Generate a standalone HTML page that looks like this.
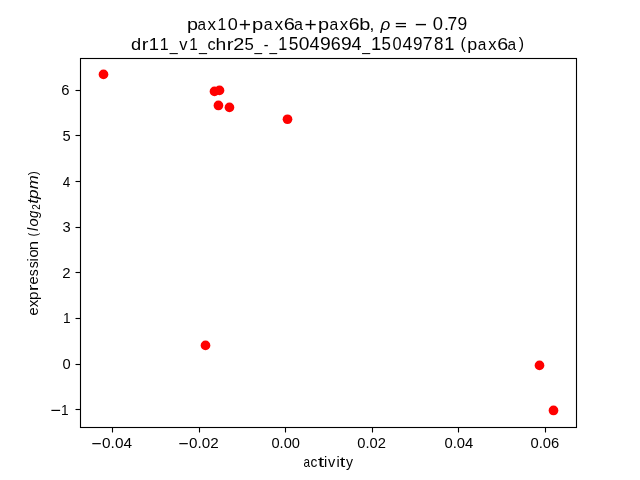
<!DOCTYPE html>
<html lang="en"><head><meta charset="utf-8"><title>scatter</title>
<style>
html,body{margin:0;padding:0;background:#fff;}
body{width:640px;height:480px;overflow:hidden;}
svg{display:block;}
text{font-family:"Liberation Sans", sans-serif;fill:#000;white-space:pre;}
</style></head>
<body>
<svg width="640" height="480" viewBox="0 0 640 480">
<rect x="0" y="0" width="640" height="480" fill="#ffffff"/>
<g fill="#ff0000" stroke="none">
<circle cx="103.50" cy="74.40" r="4.86"/>
<circle cx="214.50" cy="91.40" r="4.86"/>
<circle cx="219.50" cy="90.40" r="4.86"/>
<circle cx="218.45" cy="105.45" r="4.86"/>
<circle cx="229.45" cy="107.40" r="4.86"/>
<circle cx="287.50" cy="119.25" r="4.86"/>
<circle cx="205.50" cy="345.40" r="4.86"/>
<circle cx="539.50" cy="365.40" r="4.86"/>
<circle cx="553.50" cy="410.45" r="4.86"/>
</g>
<g stroke="#000" stroke-width="1.11" fill="none" stroke-linecap="butt">
<line x1="112.5" y1="428" x2="112.5" y2="432.5"/>
<line x1="199.5" y1="428" x2="199.5" y2="432.5"/>
<line x1="285.5" y1="428" x2="285.5" y2="432.5"/>
<line x1="372.5" y1="428" x2="372.5" y2="432.5"/>
<line x1="458.5" y1="428" x2="458.5" y2="432.5"/>
<line x1="545.5" y1="428" x2="545.5" y2="432.5"/>
<line x1="75.5" y1="90.5" x2="80" y2="90.5"/>
<line x1="75.5" y1="135.5" x2="80" y2="135.5"/>
<line x1="75.5" y1="181.5" x2="80" y2="181.5"/>
<line x1="75.5" y1="227.5" x2="80" y2="227.5"/>
<line x1="75.5" y1="272.5" x2="80" y2="272.5"/>
<line x1="75.5" y1="318.5" x2="80" y2="318.5"/>
<line x1="75.5" y1="364.5" x2="80" y2="364.5"/>
<line x1="75.5" y1="409.5" x2="80" y2="409.5"/>
<rect x="80.5" y="58.5" width="496" height="369" stroke-linejoin="miter"/>
</g>
<defs><filter id="ga" x="0" y="0" width="640" height="480" filterUnits="userSpaceOnUse" color-interpolation-filters="sRGB"><feOffset dx="0" dy="0"/></filter></defs>
<g filter="url(#ga)" opacity="0.999">
<rect x="239.80" y="23.90" width="10.20" height="1.40" fill="#000"/>
<rect x="244.20" y="20.00" width="1.40" height="9.60" fill="#000"/>
<rect x="305.50" y="23.90" width="10.20" height="1.40" fill="#000"/>
<rect x="309.90" y="20.00" width="1.40" height="9.60" fill="#000"/>
<rect x="395.80" y="22.90" width="10.20" height="1.30" fill="#000"/>
<rect x="395.80" y="25.95" width="10.20" height="1.30" fill="#000"/>
<rect x="415.80" y="23.90" width="10.20" height="1.40" fill="#000"/>
<rect x="92.30" y="443.05" width="8.50" height="1.20" fill="#000"/>
<rect x="179.30" y="443.05" width="8.50" height="1.20" fill="#000"/>
<rect x="51.40" y="409.80" width="8.70" height="1.20" fill="#000"/>
<text x="187.05" y="30.00" font-size="17.40" textLength="11.00" lengthAdjust="spacingAndGlyphs">p</text>
<text x="197.46" y="30.00" font-size="17.40" textLength="8.51" lengthAdjust="spacingAndGlyphs">a</text>
<text x="207.46" y="30.00" font-size="17.40" textLength="8.51" lengthAdjust="spacingAndGlyphs">x</text>
<text x="217.39" y="30.00" font-size="17.40" textLength="8.75" lengthAdjust="spacingAndGlyphs">1</text>
<text x="227.77" y="30.00" font-size="17.40" textLength="10.04" lengthAdjust="spacingAndGlyphs">0</text>
<text x="252.01" y="30.00" font-size="17.40" textLength="11.21" lengthAdjust="spacingAndGlyphs">p</text>
<text x="263.65" y="30.00" font-size="17.40" textLength="8.89" lengthAdjust="spacingAndGlyphs">a</text>
<text x="274.39" y="30.00" font-size="17.40" textLength="8.62" lengthAdjust="spacingAndGlyphs">x</text>
<text x="283.68" y="30.00" font-size="17.40" textLength="11.13" lengthAdjust="spacingAndGlyphs">6</text>
<text x="293.99" y="30.00" font-size="17.40" textLength="8.92" lengthAdjust="spacingAndGlyphs">a</text>
<text x="318.05" y="30.00" font-size="17.40" textLength="11.08" lengthAdjust="spacingAndGlyphs">p</text>
<text x="329.41" y="30.00" font-size="17.40" textLength="8.73" lengthAdjust="spacingAndGlyphs">a</text>
<text x="339.65" y="30.00" font-size="17.40" textLength="8.43" lengthAdjust="spacingAndGlyphs">x</text>
<text x="348.89" y="30.00" font-size="17.40" textLength="10.76" lengthAdjust="spacingAndGlyphs">6</text>
<text x="359.26" y="30.00" font-size="17.40" textLength="11.07" lengthAdjust="spacingAndGlyphs">b</text>
<text x="369.50" y="30.00" font-size="17.40">,</text>
<text x="380.54" y="30.00" font-size="17.40" font-style="italic" textLength="9.78" lengthAdjust="spacingAndGlyphs">ρ</text>
<text x="432.80" y="30.00" font-size="17.66" textLength="10.26" lengthAdjust="spacingAndGlyphs">0</text>
<text x="443.90" y="30.00" font-size="17.66">.</text>
<text x="447.52" y="30.00" font-size="17.66" textLength="9.70" lengthAdjust="spacingAndGlyphs">7</text>
<text x="457.53" y="30.00" font-size="17.66" textLength="9.70" lengthAdjust="spacingAndGlyphs">9</text>
<text x="131.11" y="50.00" font-size="17.40" textLength="10.16" lengthAdjust="spacingAndGlyphs">d</text>
<text x="141.67" y="50.00" font-size="17.40" textLength="6.67" lengthAdjust="spacingAndGlyphs">r</text>
<text x="148.72" y="50.00" font-size="17.40" textLength="10.24" lengthAdjust="spacingAndGlyphs">1</text>
<text x="159.73" y="50.00" font-size="17.40" textLength="8.91" lengthAdjust="spacingAndGlyphs">1</text>
<text x="169.83" y="50.55" font-size="17.40" textLength="7.93" lengthAdjust="spacingAndGlyphs">_</text>
<text x="179.33" y="50.00" font-size="17.40" textLength="8.23" lengthAdjust="spacingAndGlyphs">v</text>
<text x="189.21" y="50.00" font-size="17.40" textLength="8.56" lengthAdjust="spacingAndGlyphs">1</text>
<text x="198.93" y="50.55" font-size="17.40" textLength="7.95" lengthAdjust="spacingAndGlyphs">_</text>
<text x="207.39" y="50.00" font-size="17.40" textLength="8.16" lengthAdjust="spacingAndGlyphs">c</text>
<text x="215.64" y="50.00" font-size="17.40" textLength="10.72" lengthAdjust="spacingAndGlyphs">h</text>
<text x="226.73" y="50.00" font-size="17.40" textLength="6.76" lengthAdjust="spacingAndGlyphs">r</text>
<text x="233.34" y="50.00" font-size="17.40" textLength="11.06" lengthAdjust="spacingAndGlyphs">2</text>
<text x="244.57" y="50.00" font-size="17.40" textLength="9.32" lengthAdjust="spacingAndGlyphs">5</text>
<text x="254.53" y="50.55" font-size="17.40" textLength="7.55" lengthAdjust="spacingAndGlyphs">_</text>
<text x="263.87" y="50.00" font-size="17.40" textLength="4.76" lengthAdjust="spacingAndGlyphs">-</text>
<text x="269.53" y="50.55" font-size="17.40" textLength="7.55" lengthAdjust="spacingAndGlyphs">_</text>
<text x="278.34" y="50.00" font-size="17.66" textLength="9.01" lengthAdjust="spacingAndGlyphs">1</text>
<text x="288.76" y="50.00" font-size="17.66" textLength="9.66" lengthAdjust="spacingAndGlyphs">5</text>
<text x="298.82" y="50.00" font-size="17.66" textLength="10.71" lengthAdjust="spacingAndGlyphs">0</text>
<text x="309.41" y="50.00" font-size="17.66" textLength="10.09" lengthAdjust="spacingAndGlyphs">4</text>
<text x="319.95" y="50.00" font-size="17.66" textLength="10.78" lengthAdjust="spacingAndGlyphs">9</text>
<text x="330.78" y="50.00" font-size="17.66" textLength="9.98" lengthAdjust="spacingAndGlyphs">6</text>
<text x="341.08" y="50.00" font-size="17.66" textLength="10.76" lengthAdjust="spacingAndGlyphs">9</text>
<text x="351.50" y="50.00" font-size="17.66" textLength="10.06" lengthAdjust="spacingAndGlyphs">4</text>
<text x="362.33" y="50.55" font-size="17.40" textLength="7.84" lengthAdjust="spacingAndGlyphs">_</text>
<text x="371.05" y="50.00" font-size="17.66" textLength="10.28" lengthAdjust="spacingAndGlyphs">1</text>
<text x="381.60" y="50.00" font-size="17.66" textLength="9.43" lengthAdjust="spacingAndGlyphs">5</text>
<text x="392.45" y="50.00" font-size="17.66" textLength="9.14" lengthAdjust="spacingAndGlyphs">0</text>
<text x="402.55" y="50.00" font-size="17.66" textLength="9.85" lengthAdjust="spacingAndGlyphs">4</text>
<text x="413.07" y="50.00" font-size="17.66" textLength="9.50" lengthAdjust="spacingAndGlyphs">9</text>
<text x="422.82" y="50.00" font-size="17.66" textLength="9.79" lengthAdjust="spacingAndGlyphs">7</text>
<text x="433.98" y="50.00" font-size="17.66" textLength="9.43" lengthAdjust="spacingAndGlyphs">8</text>
<text x="444.17" y="50.00" font-size="17.66" textLength="10.18" lengthAdjust="spacingAndGlyphs">1</text>
<text x="460.56" y="48.90" font-size="15.95">(</text>
<text x="467.26" y="50.00" font-size="17.40" textLength="9.95" lengthAdjust="spacingAndGlyphs">p</text>
<text x="477.66" y="50.00" font-size="17.40" textLength="8.60" lengthAdjust="spacingAndGlyphs">a</text>
<text x="488.15" y="50.00" font-size="17.40" textLength="8.30" lengthAdjust="spacingAndGlyphs">x</text>
<text x="497.20" y="50.00" font-size="17.40" textLength="10.95" lengthAdjust="spacingAndGlyphs">6</text>
<text x="507.51" y="50.00" font-size="17.40" textLength="8.59" lengthAdjust="spacingAndGlyphs">a</text>
<text x="518.83" y="48.90" font-size="15.95">)</text>
<text x="303.45" y="466.50" font-size="14.50" textLength="6.55" lengthAdjust="spacingAndGlyphs">a</text>
<text x="310.43" y="466.50" font-size="14.50" textLength="6.86" lengthAdjust="spacingAndGlyphs">c</text>
<text x="317.73" y="466.50" font-size="14.50" textLength="6.55" lengthAdjust="spacingAndGlyphs">t</text>
<text x="323.88" y="466.50" font-size="14.50">i</text>
<text x="327.98" y="466.50" font-size="14.50" textLength="7.28" lengthAdjust="spacingAndGlyphs">v</text>
<text x="336.38" y="466.50" font-size="14.50">i</text>
<text x="339.72" y="466.50" font-size="14.50" textLength="5.56" lengthAdjust="spacingAndGlyphs">t</text>
<text x="346.00" y="466.50" font-size="14.50" textLength="7.00" lengthAdjust="spacingAndGlyphs">y</text>
<text x="102.07" y="448.00" font-size="14.72" textLength="29.95" lengthAdjust="spacingAndGlyphs">0.04</text>
<text x="189.06" y="448.00" font-size="14.72" textLength="29.62" lengthAdjust="spacingAndGlyphs">0.02</text>
<text x="271.48" y="448.00" font-size="14.72" textLength="28.54" lengthAdjust="spacingAndGlyphs">0.00</text>
<text x="357.36" y="448.00" font-size="14.72" textLength="28.62" lengthAdjust="spacingAndGlyphs">0.02</text>
<text x="444.48" y="448.00" font-size="14.72" textLength="28.83" lengthAdjust="spacingAndGlyphs">0.04</text>
<text x="530.48" y="448.00" font-size="14.72" textLength="28.75" lengthAdjust="spacingAndGlyphs">0.06</text>
<text x="61.35" y="95.00" font-size="14.72" textLength="8.24" lengthAdjust="spacingAndGlyphs">6</text>
<text x="62.42" y="141.00" font-size="14.72" textLength="8.17" lengthAdjust="spacingAndGlyphs">5</text>
<text x="62.73" y="187.00" font-size="14.72" textLength="7.54" lengthAdjust="spacingAndGlyphs">4</text>
<text x="62.42" y="232.00" font-size="14.72" textLength="8.17" lengthAdjust="spacingAndGlyphs">3</text>
<text x="62.34" y="278.00" font-size="14.72" textLength="8.33" lengthAdjust="spacingAndGlyphs">2</text>
<text x="63.05" y="323.00" font-size="14.72" textLength="7.58" lengthAdjust="spacingAndGlyphs">1</text>
<text x="62.42" y="369.00" font-size="14.72" textLength="8.17" lengthAdjust="spacingAndGlyphs">0</text>
<text x="61.05" y="415.00" font-size="14.72" textLength="7.58" lengthAdjust="spacingAndGlyphs">1</text>
<text transform="translate(37.60 315.58) rotate(-90)" font-size="14.50" textLength="8.17" lengthAdjust="spacingAndGlyphs">e</text>
<text transform="translate(37.60 307.27) rotate(-90)" font-size="14.50" textLength="7.54" lengthAdjust="spacingAndGlyphs">x</text>
<text transform="translate(37.60 299.91) rotate(-90)" font-size="14.50" textLength="8.52" lengthAdjust="spacingAndGlyphs">p</text>
<text transform="translate(37.60 291.33) rotate(-90)" font-size="14.50" textLength="6.67" lengthAdjust="spacingAndGlyphs">r</text>
<text transform="translate(37.60 284.58) rotate(-90)" font-size="14.50" textLength="8.17" lengthAdjust="spacingAndGlyphs">e</text>
<text transform="translate(37.60 276.35) rotate(-90)" font-size="14.50" textLength="6.92" lengthAdjust="spacingAndGlyphs">s</text>
<text transform="translate(37.60 268.35) rotate(-90)" font-size="14.50" textLength="6.92" lengthAdjust="spacingAndGlyphs">s</text>
<text transform="translate(37.60 261.62) rotate(-90)" font-size="14.50">i</text>
<text transform="translate(37.60 257.58) rotate(-90)" font-size="14.50" textLength="8.17" lengthAdjust="spacingAndGlyphs">o</text>
<text transform="translate(37.60 250.27) rotate(-90)" font-size="14.50" textLength="9.26" lengthAdjust="spacingAndGlyphs">n</text>
<text transform="translate(36.70 236.62) rotate(-90)" font-size="13.30" textLength="3.69" lengthAdjust="spacingAndGlyphs">(</text>
<text transform="translate(37.60 230.88) rotate(-90)" font-size="14.50" font-style="italic">l</text>
<text transform="translate(37.60 226.58) rotate(-90)" font-size="14.50" font-style="italic" textLength="8.17" lengthAdjust="spacingAndGlyphs">o</text>
<text transform="translate(37.60 218.00) rotate(-90)" font-size="14.50" font-style="italic" textLength="7.26" lengthAdjust="spacingAndGlyphs">g</text>
<text transform="translate(39.80 209.79) rotate(-90)" font-size="11.30" textLength="5.59" lengthAdjust="spacingAndGlyphs">2</text>
<text transform="translate(37.60 203.83) rotate(-90)" font-size="14.50" font-style="italic" textLength="14.38" lengthAdjust="spacingAndGlyphs">tp</text>
<text transform="translate(37.60 189.27) rotate(-90)" font-size="14.50" font-style="italic" textLength="14.08" lengthAdjust="spacingAndGlyphs">m</text>
<text transform="translate(36.70 175.27) rotate(-90)" font-size="13.30" textLength="3.93" lengthAdjust="spacingAndGlyphs">)</text>
</g>
</svg>
</body></html>
